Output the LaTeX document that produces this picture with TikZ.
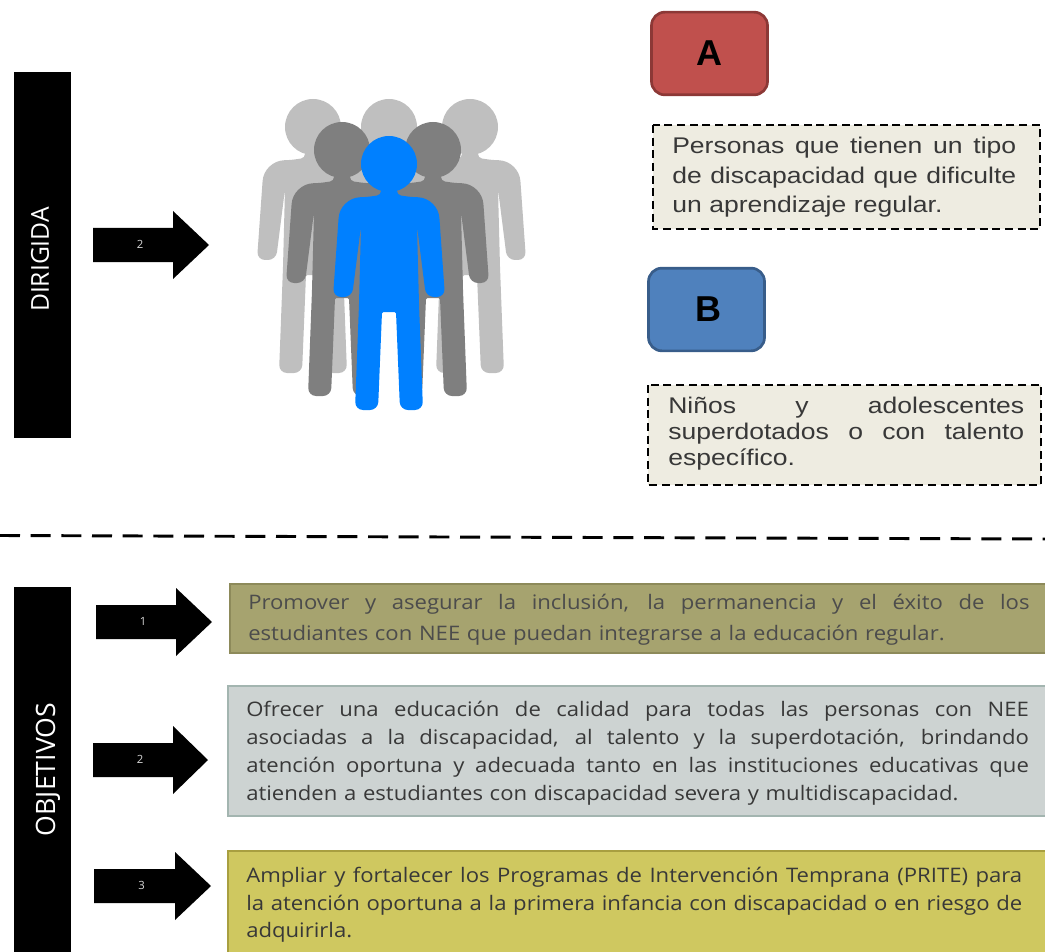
\documentclass[tikz,border=0pt]{standalone}
\usepackage{fontspec}
\setmainfont[FakeStretch=1.17]{Liberation Sans}
\newfontfamily\letterfont{Liberation Sans}
\newfontfamily\bodyfont[FakeStretch=1.105]{Open Sans}
\newfontfamily\sidefont{Open Sans}
\usetikzlibrary{calc}
\definecolor{lightp}{HTML}{BFBFBF}
\definecolor{darkp}{HTML}{7F7F7F}
\definecolor{bluep}{HTML}{0080FF}
\definecolor{dashfill}{HTML}{EEECE1}
\definecolor{redfill}{HTML}{C0504D}
\definecolor{redline}{HTML}{8C3836}
\definecolor{bluefill}{HTML}{4F81BD}
\definecolor{blueline}{HTML}{385D8A}
\definecolor{oliveF}{HTML}{A6A36F}
\definecolor{oliveL}{HTML}{8D8A5A}
\definecolor{greyF}{HTML}{CDD3D2}
\definecolor{greyL}{HTML}{A3B5B0}
\definecolor{yellowF}{HTML}{CFC860}
\definecolor{yellowL}{HTML}{A89F40}
\newcommand{\just}[2]{\noindent\hbox to #1{\spaceskip=.25em plus 1fil\relax #2}\par}
\newcommand{\personfig}[3]{%
  \fill[#3] (#1,#2) circle[radius=21pt];
  \fill[#3,rounded corners=3pt] ($(#1,#2)+(-8,22)$) -- ($(#1,#2)+(8,22)$) -- ($(#1,#2)+(8,31)$)
   -- ($(#1,#2)+(22,33)$) [rounded corners=15pt] -- ($(#1,#2)+(49,34)$) [rounded corners=6pt] -- ($(#1,#2)+(56,133)$) -- ($(#1,#2)+(37,133)$)
   [rounded corners=1pt] -- ($(#1,#2)+(28,62)$) -- ($(#1,#2)+(30,140)$) [rounded corners=6pt] -- ($(#1,#2)+(34,246)$) -- ($(#1,#2)+(11,246)$)
   [rounded corners=1pt] -- ($(#1,#2)+(7,148)$) -- ($(#1,#2)+(-7,148)$) [rounded corners=6pt] -- ($(#1,#2)+(-11,246)$) -- ($(#1,#2)+(-34,246)$)
   [rounded corners=1pt] -- ($(#1,#2)+(-30,140)$) -- ($(#1,#2)+(-28,62)$) [rounded corners=6pt] -- ($(#1,#2)+(-37,133)$) -- ($(#1,#2)+(-56,133)$)
   [rounded corners=15pt] -- ($(#1,#2)+(-49,34)$) [rounded corners=3pt] -- ($(#1,#2)+(-22,33)$) -- ($(#1,#2)+(-8,31)$) -- cycle;
}
\newcommand{\blockarrow}[6]{%
  \fill[black] (#2,#5-17) -- (#3,#5-17) -- (#3,#5-34) -- (#4,#5) -- (#3,#5+34) -- (#3,#5+17) -- (#2,#5+17) -- cycle;
  \node[arrownum] (#1) at ({(#2+#3)/2+7},#5-1) {#6};
}
\tikzset{
  x=0.75pt,y=-0.75pt,
  sidebar/.style={fill=black,draw=none,minimum width=42.75pt,inner sep=0pt},
  sidelabel/.style={text=white,inner sep=0pt,font=\fontsize{#1}{22}\selectfont\sidefont},
  arrownum/.style={text=white!85!black,inner sep=0pt,font=\fontsize{8.5}{9}\selectfont\sidefont},
  letterbox/.style={rounded corners=10pt,line width=2pt,minimum width=87pt,minimum height=62pt,inner sep=0pt,font=\fontsize{27}{30}\selectfont\letterfont\bfseries},
  dashbox/.style={fill=dashfill,draw=black,line width=1.4pt,dash pattern=on 6pt off 3.5pt,inner sep=0pt},
  objbox/.style={line width=2pt,inner sep=0pt},
  uppertext/.style={inner sep=0pt,anchor=north west,text=black!78,font=\fontsize{17}{22}\selectfont},
  uppertextb/.style={inner sep=0pt,anchor=north west,text=black!78,font=\fontsize{17}{19.5}\selectfont},
  lowertext/.style={inner sep=0pt,anchor=north west,text=black!78,font=\fontsize{15}{#1}\selectfont\bodyfont},
}
\begin{document}
\begin{tikzpicture}
\useasboundingbox (0,0) rectangle (1045,952);
\node[sidebar,minimum height=274.5pt] (dirigida) at (42.5,255) {};
\node[sidelabel=18.5] (dirigidatxt) at (40,259.5) {\rotatebox{90}{DIRIGIDA}};
\fill[black] (14,587) rectangle (71,952);
\node[sidelabel=20] (objetivos) at (48,769.5) {\rotatebox{90}{OBJETIVOS}};
\blockarrow{a0}{93}{173}{209}{245}{2}
\blockarrow{a1}{96}{176}{212}{622}{1}
\blockarrow{a2}{93}{173}{208}{760}{2}
\blockarrow{a3}{94}{175}{211}{886}{3}
\personfig{313}{127}{lightp}
\personfig{389}{127}{lightp}
\personfig{470}{127}{lightp}
\personfig{342}{150}{darkp}
\personfig{433}{150}{darkp}
\personfig{389}{164}{bluep}
\node[letterbox,fill=redfill,draw=redline] (A) at (709.5,53.5) {A};
\node[letterbox,fill=bluefill,draw=blueline] (B) at (706.5,309.5) {\hspace{3pt}B};
\draw[dashbox] (653,125) rectangle (1040,229);
\node[uppertext,text width=258pt] (ta) at (672,137) {\just{258pt}{Personas que tienen un tipo}\just{258pt}{de discapacidad que dificulte}un aprendizaje regular.};
\draw[dashbox] (648,385) rectangle (1041,485);
\node[uppertextb,text width=267pt] (tb) at (668,397) {\just{267pt}{Niños y adolescentes}\just{267pt}{superdotados o con talento}específico.};
\draw[line width=2.2pt,dash pattern=on 15pt off 8pt] (0,535.5) -- (1045,539);
\draw[objbox,fill=oliveF,draw=oliveL] (230,584) rectangle (1047,653);
\node[lowertext=23,text width=586pt,text=black!70] (t1) at (248,594) {\just{586pt}{Promover y asegurar la inclusión, la permanencia y el éxito de los}estudiantes con NEE que puedan integrarse a la educación regular.};
\draw[objbox,fill=greyF,draw=greyL] (228,686) rectangle (1047,816);
\node[lowertext=21,text width=587pt] (t2) at (246,701) {\just{587pt}{Ofrecer una educación de calidad para todas las personas con NEE}\just{587pt}{asociadas a la discapacidad, al talento y la superdotación, brindando}\just{587pt}{atención oportuna y adecuada tanto en las instituciones educativas que}atienden a estudiantes con discapacidad severa y multidiscapacidad.};
\draw[objbox,fill=yellowF,draw=yellowL] (228,851) rectangle (1047,954);
\node[lowertext=20.6,text width=582pt] (t3) at (246,867) {\just{582pt}{Ampliar y fortalecer los Programas de Intervención Temprana (PRITE) para}\just{582pt}{la atención oportuna a la primera infancia con discapacidad o en riesgo de}adquirirla.};
\end{tikzpicture}
\end{document}
